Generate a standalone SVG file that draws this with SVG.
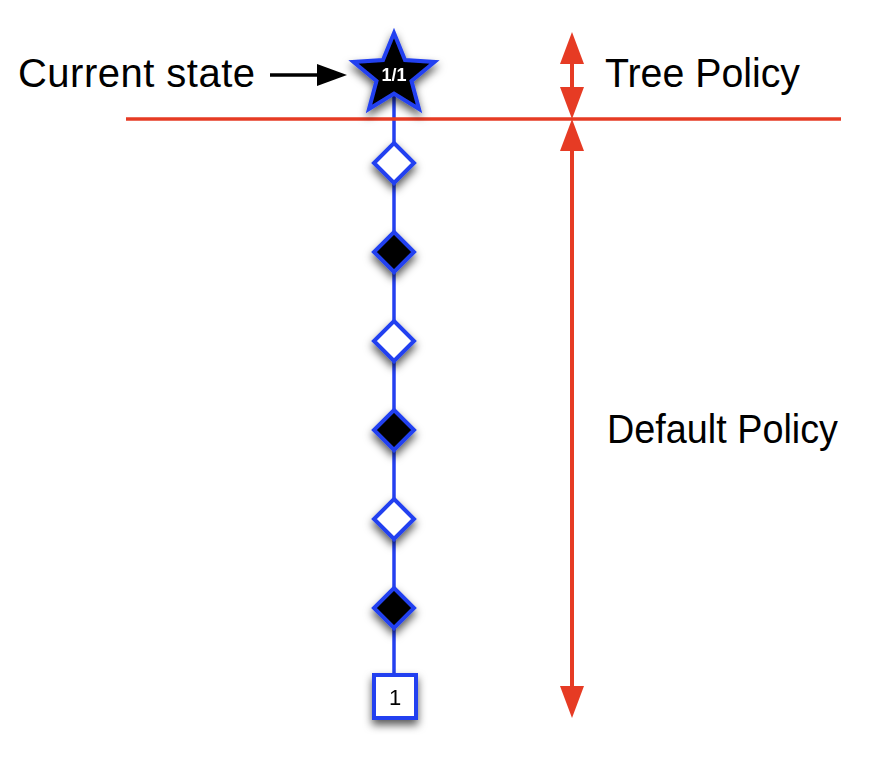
<svg xmlns="http://www.w3.org/2000/svg" width="877" height="759" viewBox="0 0 877 759">
  <style>
    .lbl { font-family: "Liberation Sans", Arial, Helvetica, sans-serif; font-size: 40px; fill: #000; }
    .node { stroke: #2440f0; stroke-width: 4; stroke-linejoin: miter; }
    .dark { fill: #000; }
    .light { fill: #fff; }
    .blue { stroke: #2440f0; stroke-width: 3.5; fill: none; }
    .red { stroke: #e63b24; stroke-width: 4; fill: none; }
    .ntext { font-family: "Liberation Sans", Arial, Helvetica, sans-serif; text-anchor: middle; }
  </style>
  <defs>
    <filter id="shadow" x="-50%" y="-50%" width="200%" height="200%">
      <feDropShadow dx="0" dy="5" stdDeviation="4.5" flood-color="#000" flood-opacity="0.65"/>
    </filter>
    <marker id="redHead" viewBox="0 0 32 24" refX="10" refY="12" markerWidth="32" markerHeight="24" markerUnits="userSpaceOnUse" orient="auto-start-reverse">
      <path d="M0,0 L32,12 L0,24 Z" fill="#e63b24"/>
    </marker>
    <marker id="blackHead" viewBox="0 0 30 22" refX="5" refY="11" markerWidth="30" markerHeight="22" markerUnits="userSpaceOnUse" orient="auto">
      <path d="M0,0 L30,11 L0,22 Z" fill="#000"/>
    </marker>
  </defs>

  <g id="connectors">
    <line class="blue" x1="394" y1="93" x2="394" y2="675"/>
    <line x1="126" y1="119" x2="841" y2="119" stroke="#e63b24" stroke-width="3.5"/>
    <line class="red" x1="572" y1="54" x2="572" y2="97" marker-start="url(#redHead)" marker-end="url(#redHead)"/>
    <line class="red" x1="572" y1="141" x2="572" y2="696" marker-start="url(#redHead)" marker-end="url(#redHead)"/>
    <line x1="270" y1="75" x2="322" y2="75" stroke="#000" stroke-width="3.5" marker-end="url(#blackHead)"/>
  </g>

  <g id="label-current-state">
    <text class="lbl" x="18" y="87" textLength="237" lengthAdjust="spacing">Current state</text>
  </g>
  <g id="label-tree-policy">
    <text class="lbl" x="605" y="87" textLength="195" lengthAdjust="spacingAndGlyphs">Tree Policy</text>
  </g>
  <g id="label-default-policy">
    <text class="lbl" x="607" y="443" textLength="231" lengthAdjust="spacingAndGlyphs">Default Policy</text>
  </g>

  <g id="node-root" filter="url(#shadow)">
    <path class="node dark" stroke-width="5" d="M394,33 L405,60 L434.5,62 L411.5,81 L419,109 L394,93.5 L369,109 L376.5,81 L353.5,62 L383,60 Z"/>
    <text class="ntext" x="394" y="81" font-size="18" font-weight="bold" fill="#fff">1/1</text>
  </g>

  <g id="node-d1" filter="url(#shadow)">
    <path class="node light" d="M394,143 L414,163 L394,183 L374,163 Z"/>
  </g>
  <g id="node-d2" filter="url(#shadow)">
    <path class="node dark" d="M394,232 L414,252 L394,272 L374,252 Z"/>
  </g>
  <g id="node-d3" filter="url(#shadow)">
    <path class="node light" d="M394,321 L414,341 L394,361 L374,341 Z"/>
  </g>
  <g id="node-d4" filter="url(#shadow)">
    <path class="node dark" d="M394,410 L414,430 L394,450 L374,430 Z"/>
  </g>
  <g id="node-d5" filter="url(#shadow)">
    <path class="node light" d="M394,499 L414,519 L394,539 L374,519 Z"/>
  </g>
  <g id="node-d6" filter="url(#shadow)">
    <path class="node dark" d="M394,588 L414,608 L394,628 L374,608 Z"/>
  </g>

  <g id="node-leaf" filter="url(#shadow)">
    <rect class="node light" x="374" y="675" width="42" height="43"/>
    <text class="ntext" x="395" y="705" font-size="22" fill="#000">1</text>
  </g>
</svg>
